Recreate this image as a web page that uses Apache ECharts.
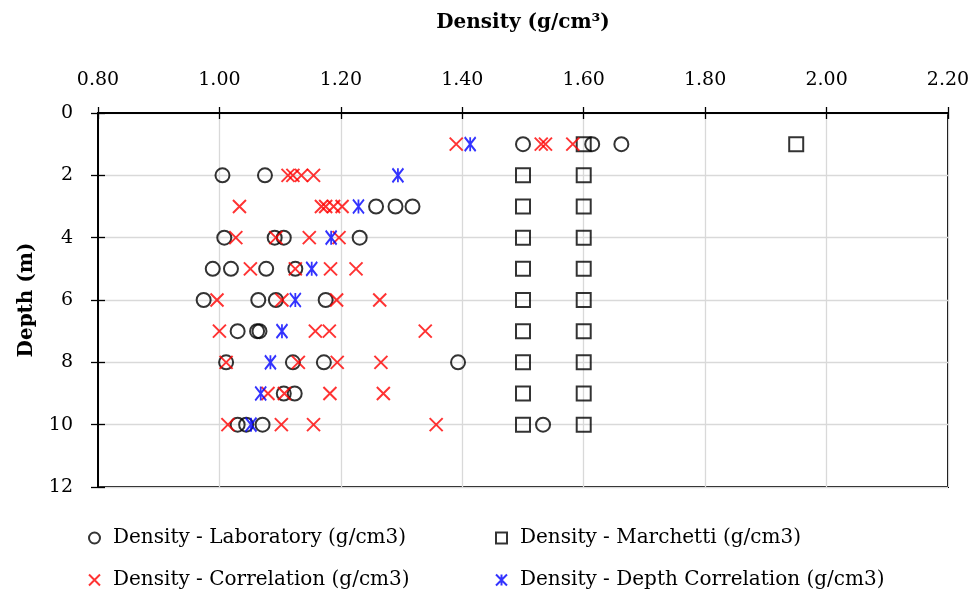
<!DOCTYPE html>
<html>
<head>
<meta charset="utf-8">
<script src="https://cdn.jsdelivr.net/npm/echarts@6/dist/echarts.min.js"></script>
<style>
  html, body { margin: 0; padding: 0; background: #fff; }
  #chart { width: 979px; height: 600px; }
</style>
</head>
<body>
<div id="chart"></div>
<script>
// Sampling depths (m); each row of the density arrays below belongs to one depth
const depths = [1, 2, 3, 4, 5, 6, 7, 8, 9, 10];

// Laboratory densities (g/cm3) per depth
const laboratory = [
  [1.500, 1.614, 1.662],
  [1.005, 1.075],
  [1.258, 1.290, 1.318],
  [1.008, 1.091, 1.106, 1.231],
  [0.989, 1.019, 1.077, 1.125],
  [0.974, 1.064, 1.093, 1.175],
  [1.030, 1.062, 1.066],
  [1.011, 1.121, 1.172, 1.393],
  [1.106, 1.124],
  [1.030, 1.044, 1.071, 1.533]
];

// Marchetti DMT densities (g/cm3) per depth
const marchetti = [
  [1.60, 1.95],
  [1.50, 1.60],
  [1.50, 1.60],
  [1.50, 1.60],
  [1.50, 1.60],
  [1.50, 1.60],
  [1.50, 1.60],
  [1.50, 1.60],
  [1.50, 1.60],
  [1.50, 1.60]
];

// Correlation-based densities (g/cm3) per depth
const correlation = [
  [1.390, 1.530, 1.537, 1.582],
  [1.113, 1.121, 1.135, 1.155],
  [1.033, 1.168, 1.175, 1.188, 1.202],
  [1.027, 1.093, 1.148, 1.197],
  [1.051, 1.125, 1.183, 1.225],
  [0.996, 1.103, 1.193, 1.264],
  [1.000, 1.158, 1.181, 1.339],
  [1.011, 1.130, 1.194, 1.266],
  [1.080, 1.107, 1.182, 1.270],
  [1.014, 1.102, 1.155, 1.357]
];

// Depth-correlation density (g/cm3), one value per depth
const depthCorrelation = [1.413, 1.294, 1.229, 1.184, 1.152, 1.125, 1.103, 1.084, 1.068, 1.052];

const seriesNames = [
  'Density - Laboratory (g/cm3)',
  'Density - Marchetti (g/cm3)',
  'Density - Correlation (g/cm3)',
  'Density - Depth Correlation (g/cm3)'
];

const FONT = 'DejaVu Serif';

// [density, depth] pairs for the scatter series
function toPoints(rows) {
  const pts = [];
  rows.forEach((row, i) => {
    (Array.isArray(row) ? row : [row]).forEach(v => pts.push([v, depths[i]]));
  });
  return pts;
}

const CROSS = 'path://M0 0L10 10M10 0L0 10';
const ASTERISK = 'path://M0 0L10 10M10 0L0 10M5 0L5 10';

const chart = echarts.init(document.getElementById('chart'), null, { renderer: 'canvas' });

const legendBase = {
  orient: 'horizontal',
  padding: 0,
  itemWidth: 11,
  itemHeight: 11,
  itemGap: 0,
  textStyle: { fontFamily: FONT, fontSize: 20, color: '#000', padding: [0, 0, 0, 8] }
};

const option = {
  backgroundColor: '#fff',
  animation: false,
  grid: {
    left: 98, right: 31, top: 113, bottom: 113,
    show: true, borderColor: '#000', borderWidth: 2, backgroundColor: 'transparent'
  },
  xAxis: [
    {
      type: 'value', position: 'top', min: 0.8, max: 2.2, interval: 0.2,
      name: 'Density (g/cm³)', nameLocation: 'middle', nameGap: 80,
      nameTextStyle: { fontFamily: FONT, fontWeight: 'bold', fontSize: 20, color: '#000' },
      axisLine: { show: true, lineStyle: { color: '#000', width: 2 } },
      axisTick: { show: true, length: 6, lineStyle: { color: '#000', width: 1.3 } },
      axisLabel: { formatter: v => v.toFixed(2), fontFamily: FONT, fontSize: 19, color: '#000', margin: 23 },
      splitLine: { show: true, lineStyle: { color: '#d9d9d9', width: 1.3 } }
    },
    {
      // inner half of the cross ticks
      type: 'value', position: 'top', min: 0.8, max: 2.2, interval: 0.2,
      axisLine: { show: false },
      axisTick: { show: true, inside: true, length: 6, lineStyle: { color: '#000', width: 1.3 } },
      axisLabel: { show: false },
      splitLine: { show: false }
    }
  ],
  yAxis: [
    {
      type: 'value', inverse: true, min: 0, max: 12, interval: 2,
      name: 'Depth (m)', nameLocation: 'middle', nameGap: 61,
      nameTextStyle: { fontFamily: FONT, fontWeight: 'bold', fontSize: 20, color: '#000' },
      axisLine: { show: true, lineStyle: { color: '#000', width: 2 } },
      axisTick: { show: true, length: 7, lineStyle: { color: '#000', width: 1.3 } },
      axisLabel: { fontFamily: FONT, fontSize: 19, color: '#000', margin: 25 },
      splitLine: { show: true, lineStyle: { color: '#d9d9d9', width: 1.3 } }
    },
    {
      type: 'value', inverse: true, min: 0, max: 12, interval: 2, position: 'left',
      axisLine: { show: false },
      axisTick: { show: true, inside: true, length: 7, lineStyle: { color: '#000', width: 1.3 } },
      axisLabel: { show: false },
      splitLine: { show: false }
    }
  ],
  legend: [
    Object.assign({}, legendBase, { data: [seriesNames[0]], left: 88, top: 528 }),
    Object.assign({}, legendBase, { data: [seriesNames[1]], left: 495, top: 528 }),
    Object.assign({}, legendBase, { data: [seriesNames[2]], left: 88, top: 570 }),
    Object.assign({}, legendBase, { data: [seriesNames[3]], left: 495, top: 570 })
  ],
  series: [
    {
      name: seriesNames[0], type: 'scatter', data: toPoints(laboratory),
      symbol: 'circle', symbolSize: 14,
      itemStyle: { color: 'transparent', borderColor: '#000', borderWidth: 2 }
    },
    {
      name: seriesNames[1], type: 'scatter', data: toPoints(marchetti),
      symbol: 'rect', symbolSize: 14,
      itemStyle: { color: 'transparent', borderColor: '#000', borderWidth: 2 }
    },
    {
      name: seriesNames[2], type: 'scatter', data: toPoints(correlation),
      symbol: CROSS, symbolSize: [13, 13],
      itemStyle: { color: 'transparent', borderColor: '#ff0000', borderWidth: 2 }
    },
    {
      name: seriesNames[3], type: 'scatter', data: toPoints(depthCorrelation),
      symbol: ASTERISK, symbolSize: [11, 14],
      itemStyle: { color: 'transparent', borderColor: '#0000ff', borderWidth: 2 }
    }
  ]
};

chart.setOption(option);
</script>
</body>
</html>
